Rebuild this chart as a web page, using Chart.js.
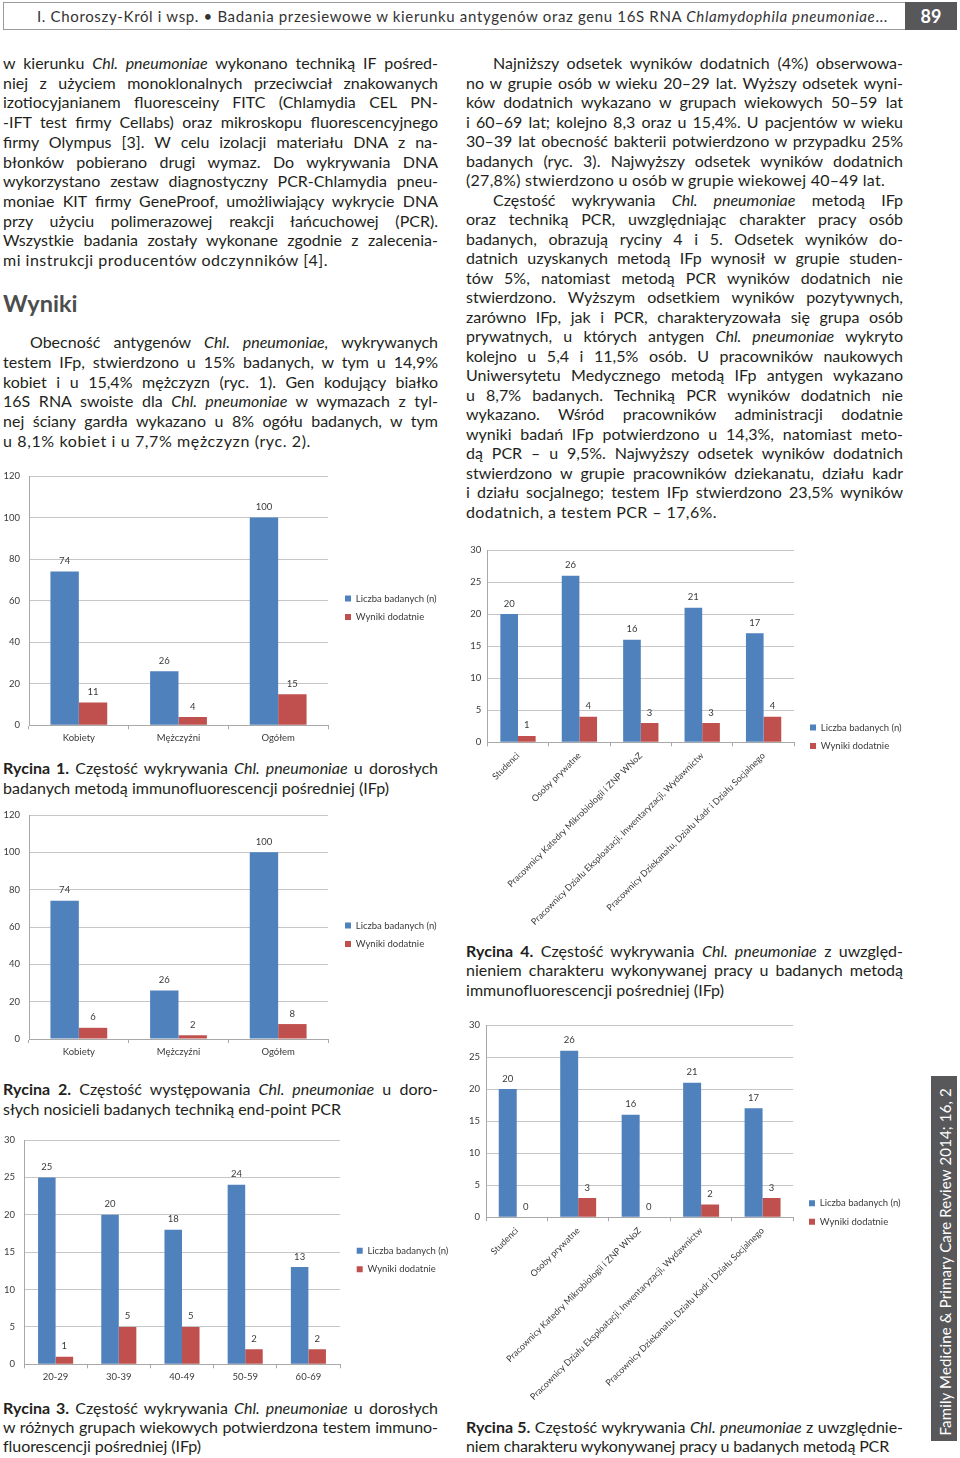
<!DOCTYPE html>
<html><head><meta charset="utf-8">
<script src="https://cdn.jsdelivr.net/npm/chart.js@4.4.1/dist/chart.umd.min.js"></script>
<style>
html,body{margin:0;padding:0}
body{width:960px;height:1458px;background:#fff;position:relative;overflow:hidden;font-family:Lato,"Open Sans",sans-serif;color:#231f20}
.ln{position:absolute;font-size:16px;line-height:20px}
.hd{font-size:15px;color:#333}
canvas{position:absolute}
#hbox{position:absolute;left:3px;top:2px;width:953px;height:28px;border:1px solid #9a9a9a;box-sizing:border-box}
#pg{position:absolute;left:905px;top:2px;width:52px;height:28px;background:#58585a;color:#fff;font-weight:bold;font-size:18px;line-height:28px;text-align:center}
#wyn{position:absolute;left:3px;top:287px;font-size:23.5px;font-weight:bold;color:#4d4d4d;line-height:32px}
#side{position:absolute;left:931px;top:1076px;width:26px;height:365px;background:#58585a}
#sidet{position:absolute;color:#fff;font-size:15px;line-height:20px;white-space:nowrap;transform:rotate(-90deg);transform-origin:center center}
</style></head>
<body>
<div id="hbox"></div>
<div id="pg">89</div>
<div id="wyn">Wyniki</div>
<div id="side"></div>
<script>
// ---------- chart data ----------
const sexCategories = ['Kobiety', 'Mężczyźni', 'Ogółem'];
const sexTested = [74, 26, 100];
const sexPositiveIFp = [11, 4, 15];
const sexPositivePCR = [6, 2, 8];

const ageCategories = ['20-29', '30-39', '40-49', '50-59', '60-69'];
const ageTested = [25, 20, 18, 24, 13];
const agePositiveIFp = [1, 5, 5, 2, 2];

const jobCategories = ['Studenci', 'Osoby prywatne', 'Pracownicy Katedry Mikrobiologii i ZNP WNoZ', 'Pracownicy Działu Eksploatacji, Inwentaryzacji, Wydawnictw', 'Pracownicy Dziekanatu, Działu Kadr i Działu Socjalnego'];
const jobTested = [20, 26, 16, 21, 17];
const jobPositiveIFp = [1, 4, 3, 3, 4];
const jobPositivePCR = [0, 3, 0, 2, 3];

const seriesNames = ['Liczba badanych (n)', 'Wyniki dodatnie'];
const ticks120 = {max: 120, step: 20};
const ticks30 = {max: 30, step: 5};

// ---------- text helper ----------
function fitLine(html, x, yc, w, opt) {
  opt = opt || {};
  const d = document.createElement('div');
  d.className = 'ln' + (opt.cls ? ' ' + opt.cls : '');
  d.style.left = x + 'px';
  d.style.top = (yc - 10) + 'px';
  d.style.whiteSpace = 'nowrap';
  d.innerHTML = '<span>' + html + '</span>';
  document.body.appendChild(d);
  const s = d.firstChild;
  const nat = s.getBoundingClientRect().width;
  const n = s.textContent.length;
  if (opt.j) {
    if (nat > w - 3) s.style.letterSpacing = ((w - 3 - nat) / n) + 'px';
    d.style.width = w + 'px';
    d.style.whiteSpace = 'normal';
    d.style.textAlign = 'justify';
    d.style.textAlignLast = 'justify';
  } else {
    let ls = (w - nat) / n;
    ls = Math.max(-1.2, Math.min(1.2, ls));
    s.style.letterSpacing = ls + 'px';
  }
  return d;
}
function block(lines, x, y0, step, w) {
  lines.forEach((ln, i) => {
    const ind = ln[2] ? 27 : 0;
    if (ln[1] === 'j') fitLine(ln[0], x + ind, y0 + i * step, w - ind, {j: true});
    else fitLine(ln[0], x + ind, y0 + i * step, ln[1] - ind);
  });
}

// header
fitLine('I. Choroszy-Król i wsp. • Badania przesiewowe w kierunku antygenów oraz genu 16S RNA <i>Chlamydophila pneumoniae</i>...', 37, 16, 851, {cls: 'hd'});

block([
 ['w kierunku <i>Chl. pneumoniae</i> wykonano techniką IF pośred-', 'j'],
 ['niej z użyciem monoklonalnych przeciwciał znakowanych', 'j'],
 ['izotiocyjanianem fluoresceiny FITC (Chlamydia CEL PN-', 'j'],
 ['-IFT test firmy Cellabs) oraz mikroskopu fluorescencyjnego', 'j'],
 ['firmy Olympus [3]. W celu izolacji materiału DNA z na-', 'j'],
 ['błonków pobierano drugi wymaz. Do wykrywania DNA', 'j'],
 ['wykorzystano zestaw diagnostyczny PCR-Chlamydia pneu-', 'j'],
 ['moniae KIT firmy GeneProof, umożliwiający wykrycie DNA', 'j'],
 ['przy użyciu polimerazowej reakcji łańcuchowej (PCR).', 'j'],
 ['Wszystkie badania zostały wykonane zgodnie z zalecenia-', 'j'],
 ['mi instrukcji producentów odczynników [4].', 325]
], 3, 63, 19.7, 435);

block([
 ['Obecność antygenów <i>Chl. pneumoniae,</i> wykrywanych', 'j', 1],
 ['testem IFp, stwierdzono u 15% badanych, w tym u 14,9%', 'j'],
 ['kobiet i u 15,4% mężczyzn (ryc. 1). Gen kodujący białko', 'j'],
 ['16S RNA swoiste dla <i>Chl. pneumoniae</i> w wymazach z tyl-', 'j'],
 ['nej ściany gardła wykazano u 8% ogółu badanych, w tym', 'j'],
 ['u 8,1% kobiet i u 7,7% mężczyzn (ryc. 2).', 308]
], 3, 342, 19.8, 435);

block([
 ['<b>Rycina 1.</b> Częstość wykrywania <i>Chl. pneumoniae</i> u dorosłych', 'j'],
 ['badanych metodą immunofluorescencji pośredniej (IFp)', 386]
], 3, 768, 19.5, 435);
block([
 ['<b>Rycina 2.</b> Częstość występowania <i>Chl. pneumoniae</i> u doro-', 'j'],
 ['słych nosicieli badanych techniką end-point PCR', 338]
], 3, 1089, 19.5, 435);
block([
 ['<b>Rycina 3.</b> Częstość wykrywania <i>Chl. pneumoniae</i> u dorosłych', 'j'],
 ['w różnych grupach wiekowych potwierdzona testem immuno-', 'j'],
 ['fluorescencji pośredniej (IFp)', 198]
], 3, 1408, 19.2, 435);

block([
 ['Najniższy odsetek wyników dodatnich (4%) obserwowa-', 'j', 1],
 ['no w grupie osób w wieku 20–29 lat. Wyższy odsetek wyni-', 'j'],
 ['ków dodatnich wykazano w grupach wiekowych 50–59 lat', 'j'],
 ['i 60–69 lat; kolejno 8,3 oraz u 15,4%. U pacjentów w wieku', 'j'],
 ['30–39 lat obecność bakterii potwierdzono w przypadku 25%', 'j'],
 ['badanych (ryc. 3). Najwyższy odsetek wyników dodatnich', 'j'],
 ['(27,8%) stwierdzono u osób w grupie wiekowej 40–49 lat.', 419],
 ['Częstość wykrywania <i>Chl. pneumoniae</i> metodą IFp', 'j', 1],
 ['oraz techniką PCR, uwzględniając charakter pracy osób', 'j'],
 ['badanych, obrazują ryciny 4 i 5. Odsetek wyników do-', 'j'],
 ['datnich uzyskanych metodą IFp wynosił w grupie studen-', 'j'],
 ['tów 5%, natomiast metodą PCR wyników dodatnich nie', 'j'],
 ['stwierdzono. Wyższym odsetkiem wyników pozytywnych,', 'j'],
 ['zarówno IFp, jak i PCR, charakteryzowała się grupa osób', 'j'],
 ['prywatnych, u których antygen <i>Chl. pneumoniae</i> wykryto', 'j'],
 ['kolejno u 5,4 i 11,5% osób. U pracowników naukowych', 'j'],
 ['Uniwersytetu Medycznego metodą IFp antygen wykazano', 'j'],
 ['u 8,7% badanych. Techniką PCR wyników dodatnich nie', 'j'],
 ['wykazano. Wśród pracowników administracji dodatnie', 'j'],
 ['wyniki badań IFp potwierdzono u 14,3%, natomiast meto-', 'j'],
 ['dą PCR – u 9,5%. Najwyższy odsetek wyników dodatnich', 'j'],
 ['stwierdzono w grupie pracowników dziekanatu, działu kadr', 'j'],
 ['i działu socjalnego; testem IFp stwierdzono 23,5% wyników', 'j'],
 ['dodatnich, a testem PCR – 17,6%.', 251]
], 466, 63, 19.52, 437);

block([
 ['<b>Rycina 4.</b> Częstość wykrywania <i>Chl. pneumoniae</i> z uwzględ-', 'j'],
 ['nieniem charakteru wykonywanej pracy u badanych metodą', 'j'],
 ['immunofluorescencji pośredniej (IFp)', 258]
], 466, 951, 19.3, 437);
block([
 ['<b>Rycina 5.</b> Częstość wykrywania <i>Chl. pneumoniae</i> z uwzględnie-', 'j'],
 ['niem charakteru wykonywanej pracy u badanych metodą PCR', 423]
], 466, 1427, 19.3, 437);

// sidebar text
(function(){
  const d = document.createElement('div');
  d.id = 'sidet';
  d.innerHTML = '<span>Family Medicine &amp; Primary Care Review 2014; 16, 2</span>';
  document.body.appendChild(d);
  const s = d.firstChild;
  const nat = s.offsetWidth;
  const target = 347;
  let ls = (target - nat) / s.textContent.length;
  ls = Math.max(-1, Math.min(1.5, ls));
  s.style.letterSpacing = ls + 'px';
  d.style.width = target + 'px';
  d.style.textAlign = 'center';
  d.style.left = (944 - target / 2) + 'px';
  d.style.top = (1261.5 - 10) + 'px';
})();

// ---------- charts ----------
const BLUE = '#4f81bd', RED = '#c0504d';
const FONT = 'Lato';
const valueLabels = {
  id: 'valueLabels',
  afterDatasetsDraw(chart) {
    const ctx = chart.ctx;
    ctx.save();
    ctx.font = '9.5px ' + FONT;
    ctx.fillStyle = '#3a3a3a';
    ctx.textAlign = 'center';
    ctx.textBaseline = 'middle';
    chart.data.datasets.forEach((ds, i) => {
      chart.getDatasetMeta(i).data.forEach((bar, j) => {
        ctx.fillText(String(ds.data[j]), bar.x, bar.y - 10.5);
      });
    });
    ctx.restore();
  }
};

function buildChart(spec) {
  const LPAD = 9, LEGW = 60;
  const plotH = spec.b - spec.t;
  const xH = spec.xH;
  const cLeft = Math.round(spec.l - spec.yW);
  const yW = spec.l - cLeft;
  const cTop = Math.round(spec.t - 18);
  const padTop = spec.t - cTop;
  const W = Math.round(spec.lx + 112 - cLeft);
  const gapW = (W - LEGW) - (spec.r - cLeft);
  const H = Math.round(padTop + plotH + xH + 2);
  const padB = H - (padTop + plotH + xH);
  const legL = spec.lx - LPAD - cLeft;
  const legC = spec.lc - cTop;

  const cv = document.createElement('canvas');
  cv.width = W; cv.height = H;
  cv.style.left = cLeft + 'px'; cv.style.top = cTop + 'px';
  cv.style.width = W + 'px'; cv.style.height = H + 'px';
  document.body.appendChild(cv);

  const legendPlace = {
    id: 'legendPlace',
    afterLayout(chart) {
      const lg = chart.legend;
      if (!lg) return;
      lg.left = legL; lg.right = W; lg.width = W - legL;
      lg.top = legC - 40; lg.bottom = legC + 40; lg.height = 80;
    }
  };

  new Chart(cv, {
    type: 'bar',
    data: {
      labels: spec.labels,
      datasets: [
        {label: seriesNames[0], data: spec.a, backgroundColor: BLUE, borderWidth: 0},
        {label: seriesNames[1], data: spec.bvals, backgroundColor: RED, borderWidth: 0}
      ]
    },
    options: {
      responsive: false,
      devicePixelRatio: 1,
      animation: false,
      events: [],
      datasets: {bar: {barPercentage: 1, categoryPercentage: spec.cp}},
      layout: {padding: {top: padTop, bottom: padB, left: 0, right: 0}},
      plugins: {
        tooltip: {enabled: false},
        legend: {
          position: 'right', align: 'center', maxWidth: LEGW,
          labels: {boxWidth: 6, boxHeight: 6, padding: LPAD, color: '#3a3a3a',
                   font: {family: FONT, size: 9.5}}
        }
      },
      scales: {
        x: {
          grid: {drawOnChartArea: false, drawTicks: true, tickLength: 4, color: '#a8a8a8'},
          border: {display: true, color: '#a8a8a8'},
          ticks: {autoSkip: false, color: '#3a3a3a', padding: spec.rot ? 4 : 3,
                  minRotation: spec.rot || 0, maxRotation: spec.rot || 0,
                  font: {family: FONT, size: spec.rot ? 9 : 9.5}},
          afterFit(s) { s.height = xH; }
        },
        y: {
          min: 0, max: spec.ticks.max,
          grid: {color: '#c6c6c6', drawTicks: false},
          border: {display: true, color: '#a8a8a8'},
          ticks: {stepSize: spec.ticks.step, padding: spec.tp, color: '#3a3a3a',
                  font: {family: FONT, size: 9.5}},
          afterFit(s) { s.width = yW; }
        },
        gap: {
          type: 'linear', position: 'right', display: true,
          grid: {display: false, drawTicks: false},
          border: {display: false},
          ticks: {display: false},
          afterFit(s) { s.width = gapW; }
        }
      }
    },
    plugins: [valueLabels, legendPlace]
  });
}

buildChart({labels: sexCategories, a: sexTested, bvals: sexPositiveIFp, ticks: ticks120,
  l: 29, t: 476, r: 328, b: 725.3, lx: 345, lc: 607.8, yW: 29, tp: 9, cp: 0.57, xH: 24});
buildChart({labels: sexCategories, a: sexTested, bvals: sexPositivePCR, ticks: ticks120,
  l: 29, t: 815, r: 328, b: 1039, lx: 345, lc: 934.7, yW: 29, tp: 9, cp: 0.57, xH: 24});
buildChart({labels: ageCategories, a: ageTested, bvals: agePositiveIFp, ticks: ticks30,
  l: 24, t: 1140, r: 340, b: 1364.3, lx: 356.7, lc: 1259.9, yW: 24, tp: 9, cp: 0.555, xH: 24});
buildChart({labels: jobCategories, a: jobTested, bvals: jobPositiveIFp, ticks: ticks30,
  l: 487.3, t: 550, r: 794.3, b: 742.3, lx: 810, lc: 736.7, yW: 27, tp: 6, cp: 0.575, xH: 190, rot: 45});
buildChart({labels: jobCategories, a: jobTested, bvals: jobPositivePCR, ticks: ticks30,
  l: 486, t: 1025, r: 793.3, b: 1217.3, lx: 809, lc: 1212.5, yW: 27, tp: 6, cp: 0.585, xH: 190, rot: 45});
</script>
</body></html>
